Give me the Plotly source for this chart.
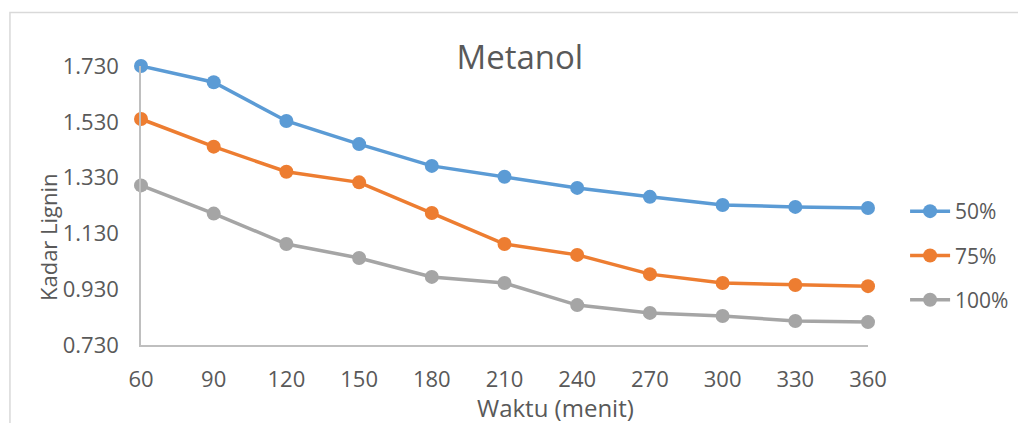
import plotly.graph_objects as go

waktu = [60, 90, 120, 150, 180, 210, 240, 270, 300, 330, 360]
kadar_50 = [1.730, 1.672, 1.533, 1.450, 1.372, 1.333, 1.293, 1.261, 1.232, 1.225, 1.221]
kadar_75 = [1.540, 1.441, 1.351, 1.313, 1.203, 1.092, 1.053, 0.984, 0.952, 0.945, 0.941]
kadar_100 = [1.302, 1.201, 1.092, 1.042, 0.974, 0.952, 0.873, 0.845, 0.834, 0.816, 0.812]
series_names = ["50%", "75%", "100%"]
colors = ["#5B9BD5", "#ED7D31", "#A5A5A5"]
y_ticks = [0.730, 0.930, 1.130, 1.330, 1.530, 1.730]
x_ticks = waktu

FONT = "Open Sans"
TXT = "#595959"

# page body has an 8px margin: figure is placed at (8, 8)
W, H = 1018, 415

fig = go.Figure()
for name, vals, col in zip(series_names, [kadar_50, kadar_75, kadar_100], colors):
    fig.add_trace(go.Scatter(
        x=waktu, y=vals, name=name, mode="lines+markers",
        line=dict(color=col, width=3.5),
        marker=dict(color=col, size=14),
        cliponaxis=False, legendgroup=name,
    ))

fig.update_layout(
    width=W, height=H,
    margin=dict(l=133, r=150, t=58, b=78),
    paper_bgcolor="white", plot_bgcolor="white",
    font=dict(family=FONT, size=21, color=TXT),
    title=dict(text="Metanol", x=(524 - 141) / 735, xref="paper", xanchor="center",
               y=1 - (57 - 8) / H, yanchor="middle", font=dict(size=33, color=TXT)),
    showlegend=True,
    legend=dict(x=1.051, xanchor="left", y=(337 - 183) / 279, yanchor="top",
                traceorder="grouped", tracegroupgap=14,
                font=dict(size=21, color=TXT), itemwidth=40, bgcolor="rgba(0,0,0,0)"),
    xaxis=dict(range=[60, 360], tickvals=x_ticks, ticktext=[str(v) for v in x_ticks],
               showgrid=False, zeroline=False, showline=True, linecolor="#BFBFBF", linewidth=1.5,
               ticks="outside", ticklen=14, tickcolor="rgba(0,0,0,0)",
               tickfont=dict(size=22, color=TXT)),
    yaxis=dict(range=[0.730, 1.730], tickvals=y_ticks, ticktext=[f"{v:.3f}" for v in y_ticks],
               showgrid=False, zeroline=False, showline=True, linecolor="#BFBFBF", linewidth=1.5,
               ticks="outside", ticklen=16, tickcolor="rgba(0,0,0,0)",
               tickfont=dict(size=22, color=TXT)),
    annotations=[
        dict(text="Waktu (menit)", xref="paper", yref="paper",
             x=(560 - 141) / 735, y=(345 - 407) / 279, xanchor="center", yanchor="middle",
             showarrow=False, font=dict(size=24, color=TXT)),
        dict(text="Kadar Lignin", xref="paper", yref="paper", textangle=-90,
             x=(47 - 141) / 735, y=(345 - 237) / 279, xanchor="center", yanchor="middle",
             showarrow=False, font=dict(size=22, color=TXT)),
    ],
    shapes=[dict(type="rect", xref="paper", yref="paper",
                 x0=(8.5 - 141) / 735, x1=(1040 - 141) / 735,
                 y0=(345 - 440) / 279, y1=(345 - 12.5) / 279,
                 line=dict(color="#D9D9D9", width=1.5), layer="below")],
)

fig.write_html("out.html")
